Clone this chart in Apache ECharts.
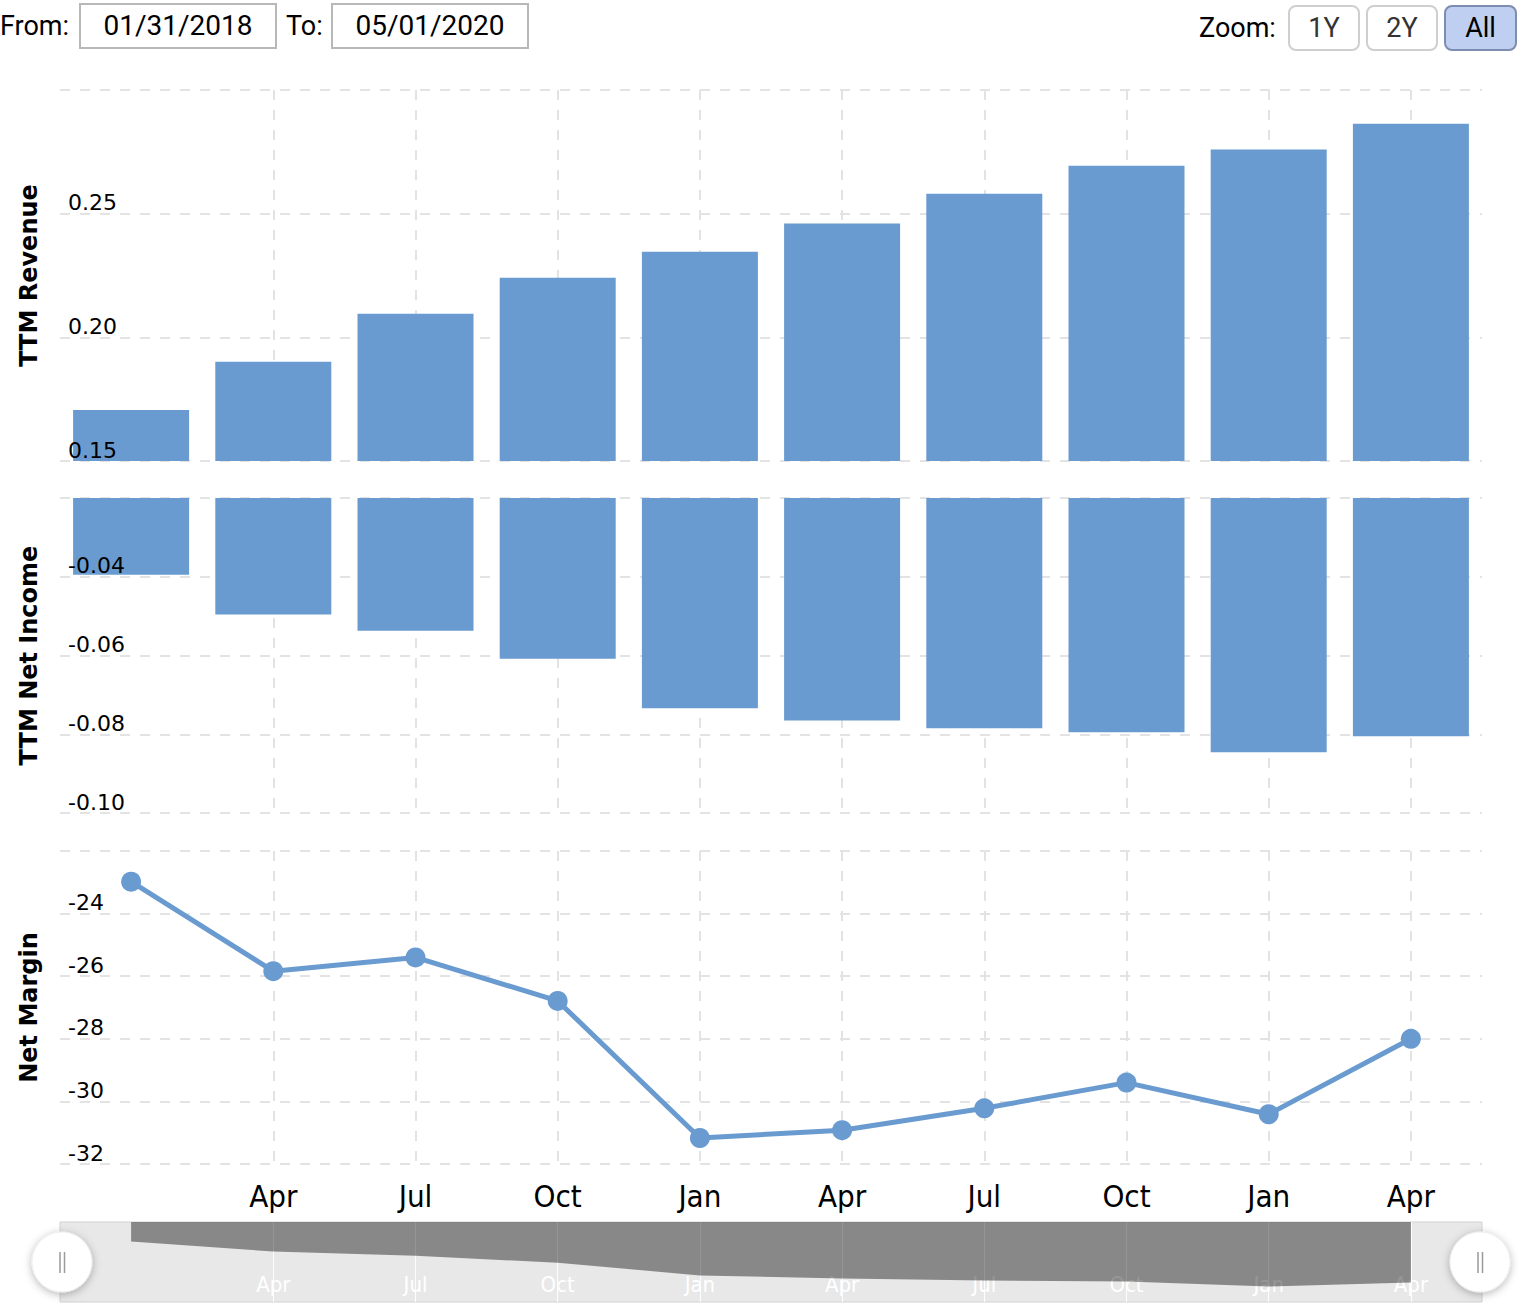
<!DOCTYPE html>
<html>
<head>
<meta charset="utf-8">
<script src="https://cdn.jsdelivr.net/npm/echarts@6/dist/echarts.min.js"></script>
<style>
  html, body { margin: 0; padding: 0; background: #fff; }
  #wrap { position: relative; width: 1520px; height: 1304px; overflow: hidden; }
  #chart { position: absolute; left: 0; top: 0; width: 1520px; height: 1304px; }
  .ctl { position: absolute; font-family: Roboto, "Noto Sans", sans-serif; font-size: 27px; color: #000; line-height: 46px; white-space: nowrap; }
  .box { position: absolute; box-sizing: border-box; border: 2px solid #b8b8b8; font-family: Roboto, "Noto Sans", sans-serif; font-size: 28px; color: #000; text-align: center; line-height: 42px; background: #fff; }
  .btn { position: absolute; box-sizing: border-box; border: 2px solid #cfcfcf; border-radius: 8px; font-family: Roboto, "Noto Sans", sans-serif; font-size: 27px; color: #333; text-align: center; line-height: 42px; background: #fff; }
  .btn.sel { background: #bfcff1; border-color: #7d8db2; color: #000; }
</style>
</head>
<body>
<div id="wrap">
  <div id="chart"></div>
  <div class="ctl" style="left:0px; top:3px;">From:</div>
  <div class="box" style="left:79px; top:3px; width:198px; height:46px;">01/31/2018</div>
  <div class="ctl" style="left:286px; top:3px;">To:</div>
  <div class="box" style="left:331px; top:3px; width:198px; height:46px;">05/01/2020</div>
  <div class="ctl" style="left:1199px; top:5px;">Zoom:</div>
  <div class="btn" style="left:1288px; top:5px; width:72px; height:46px;">1Y</div>
  <div class="btn" style="left:1366px; top:5px; width:72px; height:46px;">2Y</div>
  <div class="btn sel" style="left:1444px; top:5px; width:73px; height:46px;">All</div>
</div>
<script>
// ---- Data ----
const categories = ['2017-12-31', '2018-03-31', '2018-06-30', '2018-09-30', '2018-12-31',
                    '2019-03-31', '2019-06-30', '2019-09-30', '2019-12-31', '2020-03-31'];
const tickLabels = ['', 'Apr', 'Jul', 'Oct', 'Jan', 'Apr', 'Jul', 'Oct', 'Jan', 'Apr'];
const ttmRevenue = [0.1706, 0.1901, 0.2095, 0.2241, 0.2346, 0.2460, 0.2581, 0.2694, 0.2759, 0.2864];
const ttmNetIncome = [-0.0395, -0.0496, -0.0537, -0.0608, -0.0734, -0.0765, -0.0785, -0.0795, -0.0846, -0.0805];
const netMargin = [-22.98, -25.84, -25.40, -26.79, -31.17, -30.92, -30.22, -29.40, -30.41, -28.00];

const BLUE = '#6a9bd0';
const GRID_LINE = { color: '#e3e3e3', width: 2, type: [10, 10] };
const LABEL_FONT = '"DejaVu Sans", Verdana, sans-serif';
const X_FONT = '"DejaVu Sans Condensed", "Liberation Sans Narrow", "DejaVu Sans", sans-serif';

const chart = echarts.init(document.getElementById('chart'), null, { renderer: 'svg' });

function xAxisFor(gridIndex, labelOpts, splitColor) {
  return {
    type: 'category',
    gridIndex: gridIndex,
    data: categories,
    boundaryGap: true,
    axisLine: { show: false },
    axisTick: { show: false, alignWithLabel: true },
    axisLabel: labelOpts,
    splitLine: {
      show: true,
      alignWithLabel: true,
      interval: function (index) { return index > 0; },
      lineStyle: splitColor || GRID_LINE
    }
  };
}

// axis carrying gridlines and title (drawn under the series)
function yGridAxis(gridIndex, name, min, max, interval) {
  return {
    type: 'value',
    gridIndex: gridIndex,
    position: 'left',
    min: min, max: max, interval: interval,
    name: name,
    nameLocation: 'middle',
    nameGap: 19,
    nameTextStyle: { fontFamily: LABEL_FONT, fontWeight: 'bold', fontSize: 24, color: '#000' },
    axisLine: { show: false },
    axisTick: { show: false },
    axisLabel: { show: false },
    splitLine: { show: true, lineStyle: GRID_LINE }
  };
}

// axis carrying only the tick labels (drawn above the series)
function yLabelAxis(gridIndex, min, max, interval, digits) {
  return {
    type: 'value',
    gridIndex: gridIndex,
    position: 'left',
    offset: 0,
    z: 10,
    min: min, max: max, interval: interval,
    axisLine: { show: false },
    axisTick: { show: false },
    splitLine: { show: false },
    axisLabel: {
      inside: true,
      margin: 8,
      showMaxLabel: false,
      verticalAlign: 'bottom',
      fontFamily: LABEL_FONT,
      fontSize: 22,
      color: '#000',
      formatter: function (v) { return v.toFixed(digits); }
    }
  };
}

const option = {
  animation: false,
  backgroundColor: '#fff',
  grid: [
    { left: 60, width: 1422, top: 90, height: 371 },
    { left: 60, width: 1422, top: 498, height: 315 },
    { left: 60, width: 1422, top: 851, height: 313 },
    { left: 60, width: 1422, top: 1222, height: 80, show: true, backgroundColor: '#e8e8e8', borderColor: '#d2d2d2', borderWidth: 1 }
  ],
  xAxis: [
    xAxisFor(0, { show: false }),
    xAxisFor(1, { show: false }),
    xAxisFor(2, {
      show: true, interval: 0, margin: 16,
      fontFamily: X_FONT, fontSize: 31, color: '#000',
      formatter: function (v, i) { return tickLabels[i]; }
    }),
    xAxisFor(3, {
      show: true, inside: true, interval: 0, margin: 7,
      fontFamily: X_FONT, fontSize: 22, color: '#ffffff',
      formatter: function (v, i) { return tickLabels[i]; }
    }, { color: 'rgba(255,255,255,0.9)', width: 1, type: 'solid' })
  ],
  yAxis: [
    yGridAxis(0, 'TTM Revenue', 0.15, 0.30, 0.05),
    yGridAxis(1, 'TTM Net Income', -0.10, -0.02, 0.02),
    yGridAxis(2, 'Net Margin', -32, -22, 2),
    { type: 'value', gridIndex: 3, min: -0.10, max: -0.02, show: false, splitLine: { show: false } },
    yLabelAxis(0, 0.15, 0.30, 0.05, 2),
    yLabelAxis(1, -0.10, -0.02, 0.02, 2),
    yLabelAxis(2, -32, -22, 2, 0)
  ],
  series: [
    {
      name: 'TTM Revenue', type: 'bar', xAxisIndex: 0, yAxisIndex: 0,
      data: ttmRevenue, barWidth: 116, itemStyle: { color: BLUE }, clip: true
    },
    {
      name: 'TTM Net Income', type: 'bar', xAxisIndex: 1, yAxisIndex: 1,
      data: ttmNetIncome, barWidth: 116, itemStyle: { color: BLUE }, clip: true
    },
    {
      name: 'Net Margin', type: 'line', xAxisIndex: 2, yAxisIndex: 2,
      data: netMargin, symbol: 'circle', symbolSize: 20,
      lineStyle: { color: BLUE, width: 5 }, itemStyle: { color: BLUE }
    },
    {
      name: 'Navigator', type: 'line', xAxisIndex: 3, yAxisIndex: 3,
      data: ttmNetIncome, symbol: 'none', silent: true,
      lineStyle: { width: 0 },
      areaStyle: { origin: 'end', color: 'rgba(0,0,0,0.41)', opacity: 1 }
    }
  ],
  graphic: [
    { type: 'circle', z: 100, shape: { cx: 62, cy: 1262, r: 30 },
      style: { fill: '#ffffff', stroke: '#eeeeee', lineWidth: 1, shadowBlur: 8, shadowColor: 'rgba(0,0,0,0.28)', shadowOffsetY: 2 } },
    { type: 'line', z: 101, shape: { x1: 60, y1: 1252, x2: 60, y2: 1273 }, style: { stroke: '#9a9a9a', lineWidth: 1.5 } },
    { type: 'line', z: 101, shape: { x1: 64.5, y1: 1252, x2: 64.5, y2: 1273 }, style: { stroke: '#9a9a9a', lineWidth: 1.5 } },
    { type: 'circle', z: 100, shape: { cx: 1480, cy: 1262, r: 30 },
      style: { fill: '#ffffff', stroke: '#eeeeee', lineWidth: 1, shadowBlur: 8, shadowColor: 'rgba(0,0,0,0.28)', shadowOffsetY: 2 } },
    { type: 'line', z: 101, shape: { x1: 1478, y1: 1252, x2: 1478, y2: 1273 }, style: { stroke: '#9a9a9a', lineWidth: 1.5 } },
    { type: 'line', z: 101, shape: { x1: 1482.5, y1: 1252, x2: 1482.5, y2: 1273 }, style: { stroke: '#9a9a9a', lineWidth: 1.5 } }
  ]
};

chart.setOption(option);
</script>
</body>
</html>
